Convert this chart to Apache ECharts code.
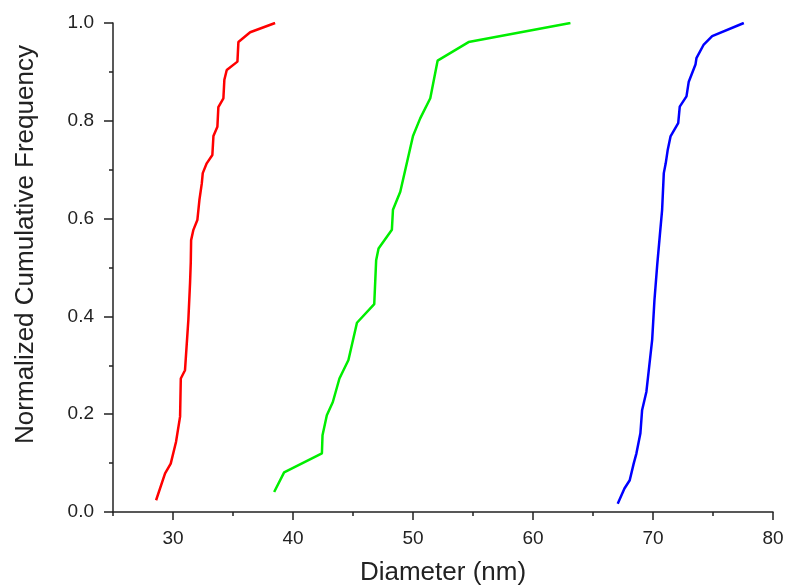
<!DOCTYPE html>
<html>
<head>
<meta charset="utf-8">
<title>Normalized Cumulative Frequency</title>
<script src="https://cdn.jsdelivr.net/npm/echarts@6/dist/echarts.min.js"></script>
<style>
  html, body { margin: 0; padding: 0; background: #fff; }
  #chart { width: 786px; height: 586px; }
</style>
</head>
<body>
<div id="chart"></div>
<script>
// Data: [diameter (nm), normalized cumulative frequency]
const redData = [
  [28.59, 0.024], [29.34, 0.079], [29.81, 0.099], [30.25, 0.143], [30.59, 0.195],
  [30.65, 0.273], [31.0, 0.29], [31.28, 0.393], [31.42, 0.468], [31.48, 0.51],
  [31.51, 0.556], [31.7, 0.577], [32.03, 0.597], [32.2, 0.638], [32.4, 0.672],
  [32.48, 0.693], [32.81, 0.713], [33.28, 0.73], [33.37, 0.769], [33.7, 0.788],
  [33.78, 0.828], [34.2, 0.846], [34.28, 0.884], [34.48, 0.904], [35.37, 0.921],
  [35.45, 0.961], [36.43, 0.981], [38.51, 1.0]
]
const greenData = [
  [38.43, 0.041], [39.26, 0.081], [42.41, 0.12], [42.46, 0.157], [42.82, 0.198],
  [43.32, 0.225], [43.87, 0.273], [44.62, 0.311], [45.33, 0.387], [46.77, 0.425],
  [46.93, 0.515], [47.13, 0.539], [48.24, 0.577], [48.33, 0.618], [48.94, 0.655],
  [50.0, 0.769], [50.6, 0.805], [51.44, 0.846], [52.05, 0.923], [54.63, 0.961],
  [63.12, 1.0]
]
const blueData = [
  [67.06, 0.017], [67.62, 0.048], [68.06, 0.065], [68.39, 0.099], [68.62, 0.12],
  [68.95, 0.161], [69.09, 0.208], [69.45, 0.246], [69.65, 0.29], [69.93, 0.352],
  [70.12, 0.433], [70.35, 0.505], [70.56, 0.563], [70.76, 0.618], [70.9, 0.693],
  [71.06, 0.713], [71.23, 0.741], [71.46, 0.768], [72.1, 0.795], [72.23, 0.829],
  [72.79, 0.85], [72.98, 0.88], [73.54, 0.915], [73.62, 0.928], [74.23, 0.956],
  [74.93, 0.973], [77.57, 1.0]
]

// Tick positions
const xMajorTicks = [30, 40, 50, 60, 70, 80]
const xMinorTicks = [25, 35, 45, 55, 65, 75]

const axisColor = '#222'
const fontFamily = '"Liberation Sans", Arial, sans-serif'

const chart = echarts.init(document.getElementById('chart'), null, { renderer: 'canvas' })

function lineSeries(data, color) {
  return {
    type: 'line',
    data: data,
    xAxisIndex: 0,
    yAxisIndex: 0,
    symbol: 'none',
    smooth: false,
    lineStyle: { color: color, width: 2.5 },
    animation: false
  }
}

const option = {
  backgroundColor: '#fff',
  animation: false,
  grid: { left: 113, right: 13, top: 23, bottom: 74, containLabel: false, outerBoundsMode: 'none' },
  xAxis: [
    {
      type: 'value',
      min: 25,
      max: 80,
      name: 'Diameter (nm)',
      nameLocation: 'middle',
      nameGap: 48,
      nameTextStyle: { fontSize: 26, color: axisColor, fontFamily: fontFamily },
      axisLine: { show: true, lineStyle: { color: axisColor, width: 1.5 } },
      axisTick: { show: true, length: 8, customValues: xMajorTicks, lineStyle: { color: axisColor, width: 1.5 } },
      axisLabel: { customValues: xMajorTicks, fontSize: 19, color: axisColor, fontFamily: fontFamily, margin: 17 },
      splitLine: { show: false }
    },
    {
      type: 'value',
      min: 25,
      max: 80,
      position: 'bottom',
      axisLine: { show: false },
      axisTick: { show: true, length: 4, customValues: xMinorTicks, lineStyle: { color: axisColor, width: 1.5 } },
      axisLabel: { show: false },
      splitLine: { show: false }
    }
  ],
  yAxis: {
    type: 'value',
    min: 0,
    max: 1,
    interval: 0.2,
    name: 'Normalized Cumulative Frequency',
    nameLocation: 'middle',
    nameGap: 74,
    nameTextStyle: { fontSize: 26, color: axisColor, fontFamily: fontFamily, padding: [0, 0, 0, 46] },
    axisLine: { show: true, lineStyle: { color: axisColor, width: 1.5 } },
    axisTick: { show: true, length: 9, lineStyle: { color: axisColor, width: 1.5 } },
    minorTick: { show: true, splitNumber: 2, length: 4, lineStyle: { color: axisColor, width: 1.5 } },
    axisLabel: {
      fontSize: 19,
      color: axisColor,
      fontFamily: fontFamily,
      margin: 19,
      formatter: v => v.toFixed(1)
    },
    splitLine: { show: false }
  },
  series: [
    lineSeries(redData, '#ff0000'),
    lineSeries(greenData, '#00ee00'),
    lineSeries(blueData, '#0000ff')
  ]
}

chart.setOption(option)
</script>
</body>
</html>
